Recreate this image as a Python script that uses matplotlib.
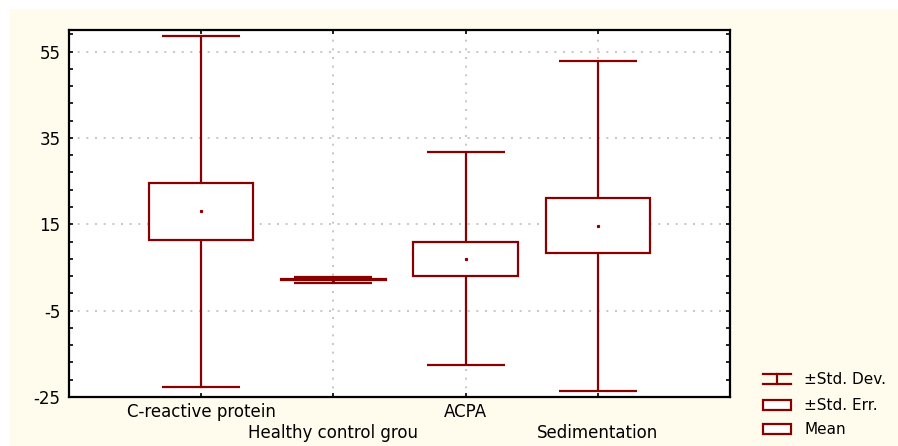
import numpy as np
import matplotlib.pyplot as plt
from matplotlib.patches import Rectangle
from matplotlib.lines import Line2D
from matplotlib.ticker import MultipleLocator
from matplotlib.transforms import ScaledTranslation

plt.rcParams['font.family'] = ['DejaVu Sans']
plt.rcParams['axes.unicode_minus'] = False

groups = ['C-reactive protein', 'Healthy control grou', 'ACPA', 'Sedimentation']
means = [18.0, 2.2, 7.0, 14.7]
std_err = [6.6, 0.15, 4.0, 6.4]
std_dev = [40.6, 0.7, 24.7, 38.2]

dark_red = '#880000'
cream = '#fffcee'

fig = plt.figure(figsize=(8.98, 4.46), dpi=100, facecolor='white')
# cream panel behind everything
fig.patches.append(Rectangle((10 / 898, 0), 1, 1 - 9 / 446, transform=fig.transFigure,
                             facecolor=cream, edgecolor='none', zorder=-5))
ax = fig.add_axes([69 / 898, 49 / 446, 661 / 898, 367 / 446])
ax.set_zorder(2)
ax.set_facecolor('white')

x = np.arange(1, len(groups) + 1)
m = np.array(means)
se = np.array(std_err)
sd = np.array(std_dev)

# whiskers (±SD) with caps
ax.vlines(x, m - sd, m + sd, color=dark_red, lw=1.6, zorder=2)
ax.hlines(m - sd, x - 0.295, x + 0.295, color=dark_red, lw=1.6, zorder=2)
ax.hlines(m + sd, x - 0.295, x + 0.295, color=dark_red, lw=1.6, zorder=2)
# boxes (±SE)
ax.bar(x, 2 * se, bottom=m - se, width=0.79, facecolor='white', edgecolor=dark_red,
       lw=1.6, zorder=3)
# means
ax.plot(x, m, ls='none', marker='s', ms=1.3, color=dark_red, mec=dark_red, zorder=4)

ax.set_xlim(0, 5)
ax.set_ylim(-25, 60)
ax.set_yticks([-25, -5, 15, 35, 55])
ax.yaxis.set_minor_locator(MultipleLocator(4, offset=-25 % 4))
ax.set_xticks(x)
ax.set_xticklabels(groups)
ax.tick_params(axis='both', which='both', direction='in', top=True, right=True,
               labelsize=12, width=1.2)
ax.tick_params(axis='y', which='major', length=3, pad=6)
ax.tick_params(axis='y', which='minor', length=3)
ax.tick_params(axis='x', length=3, pad=4)
# every second category label goes on a lower row
shift = ScaledTranslation(0, -21 / 100, fig.dpi_scale_trans)
for i, lbl in enumerate(ax.get_xticklabels()):
    if i % 2 == 1:
        lbl.set_transform(lbl.get_transform() + shift)
for sp in ax.spines.values():
    sp.set_linewidth(1.6)
ax.grid(True, color='#bdbdbd', ls=(0, (1.2, 4)), lw=1.2, zorder=1)
ax.set_axisbelow(True)

# legend drawn at the right margin
def px(xp, yp):
    return xp / 898, 1 - yp / 446

sym_x0, sym_x1 = 763, 791
rows = [379, 405, 429]
xa, ya = px(sym_x0, rows[0] - 5)
xb, yb = px(sym_x1, rows[0] + 5)
xm, _ = px((sym_x0 + sym_x1) / 2, 0)
fig.add_artist(Line2D([xa, xb], [ya, ya], color=dark_red, lw=1.6))
fig.add_artist(Line2D([xa, xb], [yb, yb], color=dark_red, lw=1.6))
fig.add_artist(Line2D([xm, xm], [ya, yb], color=dark_red, lw=1.6))
for r in rows[1:]:
    x0, y0 = px(sym_x0, r + 5)
    w = (sym_x1 - sym_x0) / 898
    h = 10 / 446
    fig.add_artist(Rectangle((x0, y0), w, h, transform=fig.transFigure,
                             facecolor='white', edgecolor=dark_red, lw=1.6))
for r, t in zip(rows, ['±Std. Dev.', '±Std. Err.', 'Mean']):
    tx, ty = px(804, r)
    fig.text(tx, ty, t, fontsize=11, va='center', ha='left')

fig.savefig('out.png', dpi=100)
